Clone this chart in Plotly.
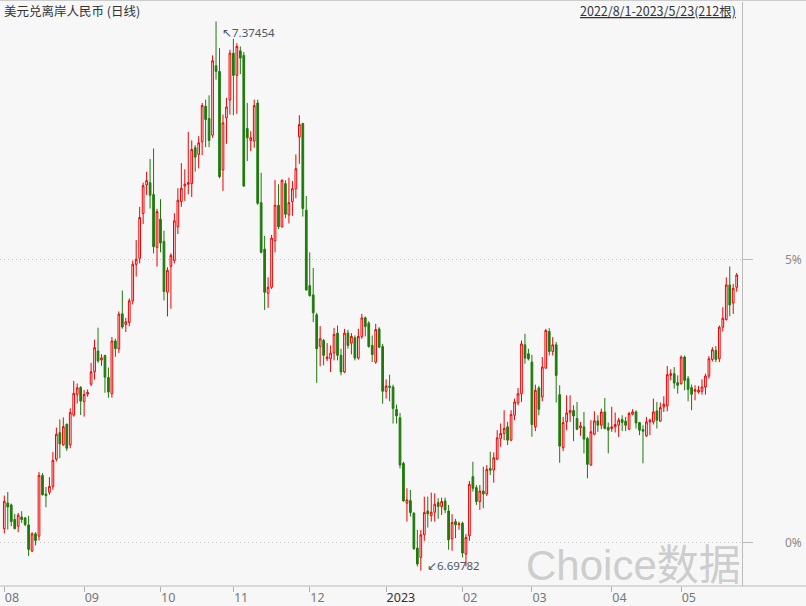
import pandas as pd
import plotly.graph_objects as go

# ---- data ----
dates = [d.strftime("%Y-%m-%d") for d in pd.bdate_range("2022-08-01", "2023-05-23")]

opens = [6.7497, 6.7812, 6.7788, 6.7608, 6.7526, 6.7640, 6.7628, 6.7542, 6.7219, 6.7432,
         6.7403, 6.8152, 6.7923, 6.7943, 6.8017, 6.8352, 6.8679, 6.8528, 6.8782, 6.8528,
         6.8896, 6.9150, 6.9236, 6.9060, 6.9154, 6.9276, 6.9428, 6.9685, 6.9575, 6.9628,
         6.9358, 6.9158, 6.9808, 6.9710, 7.0143, 7.0013, 7.0037, 7.0303, 7.0753, 7.0827,
         7.1379, 7.1730, 7.1759, 7.1612, 7.0961, 7.1309, 7.1035, 7.0409, 7.0728, 7.0798,
         7.1215, 7.1526, 7.1718, 7.1739, 7.1747, 7.2189, 7.2107, 7.2262, 7.2700, 7.2549,
         7.2344, 7.3200, 7.3130, 7.1915, 7.2557, 7.2778, 7.3355, 7.3081, 7.3384, 7.3327,
         7.2426, 7.2279, 7.2271, 7.2741, 7.1513, 7.0940, 7.0396, 7.0470, 7.1043, 7.1481,
         7.1215, 7.1747, 7.1362, 7.1526, 7.1685, 7.2324, 7.2488, 7.1419, 7.0490, 7.0376,
         7.0130, 6.9741, 6.9815, 6.9590, 6.9590, 6.9659, 6.9905, 6.9631, 6.9426, 6.9905,
         6.9782, 6.9848, 6.9598, 6.9864, 7.0093, 7.0028, 6.9753, 6.9548, 6.9957, 6.9740,
         6.9188, 6.9253, 6.9241, 6.8963, 6.8861, 6.8300, 6.7809, 6.7841, 6.7686, 6.7256,
         6.7141, 6.7420, 6.7714, 6.7657, 6.7698, 6.7817, 6.7768, 6.7837, 6.7714, 6.7371,
         6.7583, 6.7543, 6.7563, 6.7182, 6.7407, 6.8136, 6.8001, 6.7829, 6.7960, 6.7923,
         6.8238, 6.8218, 6.8353, 6.8607, 6.8668, 6.8750, 6.8586, 6.8893, 6.9045, 6.9159,
         6.9761, 6.9650, 6.9548, 6.8750, 6.9229, 6.9118, 6.9474, 6.9925, 6.9679, 6.9761,
         6.9147, 6.8492, 6.8811, 6.8922, 6.8951, 6.8852, 6.8738, 6.8750, 6.8607, 6.8279,
         6.8660, 6.8824, 6.8770, 6.8934, 6.8742, 6.8730, 6.8750, 6.8770, 6.8840, 6.8820,
         6.8721, 6.8906, 6.8934, 6.8803, 6.8717, 6.8640, 6.8811, 6.8811, 6.8946, 6.8820,
         6.8996, 6.9008, 6.9384, 6.9405, 6.9294, 6.9282, 6.9610, 6.9344, 6.9233, 6.9188,
         6.9180, 6.9188, 6.9241, 6.9376, 6.9581, 6.9691, 6.9589, 6.9978, 7.0072, 7.0498,
         7.0277, 7.0469]

highs = [6.7902, 6.7947, 6.7804, 6.7677, 6.7689, 6.7710, 6.7640, 6.7653, 6.7452, 6.7452,
         6.8193, 6.8180, 6.8009, 6.8131, 6.8438, 6.8741, 6.8843, 6.8867, 6.8790, 6.8978,
         6.9317, 6.9285, 6.9252, 6.9203, 6.9211, 6.9538, 6.9824, 6.9972, 6.9645, 6.9640,
         6.9481, 6.9857, 6.9837, 7.0172, 7.0430, 7.0094, 7.0332, 7.0798, 7.1051, 7.1460,
         7.1759, 7.1894, 7.2050, 7.2180, 7.1436, 7.1555, 7.1166, 7.0716, 7.0888, 7.1383,
         7.1690, 7.2000, 7.1923, 7.2385, 7.2279, 7.2222, 7.2332, 7.2741, 7.2782, 7.2835,
         7.3327, 7.37454, 7.3417, 7.2598, 7.2803, 7.3396, 7.3531, 7.3478, 7.3437, 7.3368,
         7.2741, 7.2393, 7.2782, 7.2782, 7.1882, 7.1104, 7.0593, 7.1116, 7.1792, 7.1739,
         7.1800, 7.1788, 7.1820, 7.1780, 7.2107, 7.2590, 7.2496, 7.1595, 7.0900, 7.0707,
         7.0155, 6.9991, 6.9835, 6.9782, 6.9753, 6.9970, 6.9999, 6.9713, 6.9958, 6.9946,
         6.9905, 6.9876, 6.9958, 7.0142, 7.0110, 7.0052, 6.9876, 7.0019, 6.9978, 6.9773,
         6.9335, 6.9393, 6.9270, 6.9024, 6.8922, 6.8320, 6.7993, 6.7972, 6.7698, 6.7481,
         6.7481, 6.7890, 6.7890, 6.7940, 6.7931, 6.7870, 6.7878, 6.7878, 6.7788, 6.7674,
         6.7616, 6.7583, 6.7583, 6.7428, 6.8083, 6.8320, 6.8034, 6.8034, 6.8259, 6.8279,
         6.8443, 6.8435, 6.8709, 6.8791, 6.8955, 6.8811, 6.8955, 6.9098, 6.9229, 6.9814,
         6.9896, 6.9712, 6.9638, 6.9270, 6.9253, 6.9610, 6.9957, 6.9966, 6.9855, 6.9794,
         6.9262, 6.8873, 6.9139, 6.9139, 6.9016, 6.9057, 6.8811, 6.8934, 6.8627, 6.8832,
         6.8942, 6.8893, 6.8975, 6.9106, 6.8803, 6.8996, 6.8926, 6.8861, 6.8893, 6.8873,
         6.8934, 6.8967, 6.8955, 6.8811, 6.8770, 6.8873, 6.8852, 6.9098, 6.9057, 6.9049,
         6.9127, 6.9499, 6.9458, 6.9487, 6.9384, 6.9630, 6.9630, 6.9376, 6.9270, 6.9262,
         6.9254, 6.9335, 6.9405, 6.9622, 6.9732, 6.9745, 6.9998, 7.0224, 7.0592, 7.0727,
         7.0510, 7.0645]

lows = [6.7436, 6.7485, 6.7526, 6.7485, 6.7452, 6.7567, 6.7526, 6.7158, 6.7207, 6.7289,
        6.7350, 6.7902, 6.7759, 6.7914, 6.7976, 6.8323, 6.8364, 6.8516, 6.8454, 6.8487,
        6.8876, 6.9039, 6.8896, 6.8876, 6.9121, 6.9252, 6.9334, 6.9538, 6.9501, 6.9170,
        6.9109, 6.9109, 6.9612, 6.9661, 6.9959, 6.9919, 6.9988, 7.0258, 7.0602, 7.0765,
        7.1248, 7.1608, 7.1440, 7.0888, 7.0724, 7.0900, 7.0307, 7.0111, 7.0205, 7.0765,
        7.1125, 7.1460, 7.1534, 7.1616, 7.1583, 7.1894, 7.1935, 7.2099, 7.2197, 7.2197,
        7.2312, 7.3028, 7.1812, 7.1657, 7.2238, 7.2598, 7.2590, 7.2606, 7.3097, 7.1706,
        7.2025, 7.2148, 7.2189, 7.1485, 7.0887, 7.0191, 7.0216, 7.0449, 7.0900, 7.1186,
        7.1206, 7.1321, 7.1256, 7.1350, 7.1567, 7.1992, 7.1342, 7.0429, 7.0355, 7.0040,
        6.9291, 6.9496, 6.9508, 6.9561, 6.9426, 6.9569, 6.9569, 6.9385, 6.9414, 6.9713,
        6.9643, 6.9569, 6.9577, 6.9835, 6.9864, 6.9725, 6.9549, 6.9528, 6.9720, 6.9036,
        6.9098, 6.9065, 6.8791, 6.8791, 6.8238, 6.7829, 6.7583, 6.7645, 6.7236, 6.7031,
        6.69782, 6.7346, 6.7510, 6.7583, 6.7583, 6.7616, 6.7665, 6.7686, 6.7236, 6.7223,
        6.7379, 6.7481, 6.7141, 6.7031, 6.7346, 6.7952, 6.7788, 6.7727, 6.7747, 6.7899,
        6.8157, 6.8062, 6.8341, 6.8504, 6.8586, 6.8525, 6.8574, 6.8832, 6.9016, 6.9057,
        6.9528, 6.9569, 6.8627, 6.8697, 6.8893, 6.9065, 6.9466, 6.9630, 6.9630, 6.9050,
        6.8308, 6.8451, 6.8709, 6.8811, 6.8574, 6.8709, 6.8640, 6.8423, 6.8116, 6.8271,
        6.8648, 6.8689, 6.8721, 6.8721, 6.8423, 6.8689, 6.8681, 6.8627, 6.8697, 6.8697,
        6.8713, 6.8893, 6.8730, 6.8648, 6.8300, 6.8627, 6.8648, 6.8779, 6.8730, 6.8811,
        6.8934, 6.8942, 6.9323, 6.9221, 6.9159, 6.9270, 6.9200, 6.9065, 6.8955, 6.9077,
        6.9159, 6.9147, 6.9147, 6.9344, 6.9556, 6.9548, 6.9548, 6.9925, 7.0060, 7.0113,
        7.0142, 7.0416]

closes = [6.7833, 6.7763, 6.7583, 6.7497, 6.7661, 6.7608, 6.7546, 6.7240, 6.7432, 6.7350,
          6.8152, 6.7914, 6.7902, 6.8017, 6.8336, 6.8659, 6.8540, 6.8753, 6.8487, 6.8925,
          6.9162, 6.9231, 6.9068, 6.9150, 6.9174, 6.9428, 6.9726, 6.9563, 6.9600, 6.9362,
          6.9178, 6.9808, 6.9714, 7.0139, 6.9980, 7.0045, 7.0303, 7.0753, 7.0814, 7.1330,
          7.1722, 7.1784, 7.1604, 7.0970, 7.1403, 7.1015, 7.0418, 7.0679, 7.0863, 7.1289,
          7.1542, 7.1690, 7.1739, 7.1759, 7.2168, 7.2074, 7.2250, 7.2709, 7.2537, 7.2279,
          7.3261, 7.3130, 7.1833, 7.2496, 7.2692, 7.3355, 7.3081, 7.3437, 7.3294, 7.1718,
          7.2312, 7.2312, 7.2709, 7.1505, 7.0900, 7.0408, 7.0470, 7.1076, 7.1481, 7.1215,
          7.1788, 7.1370, 7.1513, 7.1685, 7.1931, 7.2475, 7.1440, 7.0437, 7.0367, 7.0155,
          6.9713, 6.9835, 6.9631, 6.9610, 6.9659, 6.9889, 6.9631, 6.9426, 6.9905, 6.9753,
          6.9864, 6.9598, 6.9864, 7.0093, 6.9987, 6.9741, 6.9640, 6.9949, 6.9732, 6.9188,
          6.9253, 6.9237, 6.8975, 6.8885, 6.8279, 6.7837, 6.7850, 6.7694, 6.7248, 6.7060,
          6.7420, 6.7694, 6.7678, 6.7698, 6.7796, 6.7768, 6.7829, 6.7727, 6.7358, 6.7571,
          6.7543, 6.7555, 6.7195, 6.7387, 6.8042, 6.7993, 6.7829, 6.7960, 6.7923, 6.8226,
          6.8214, 6.8369, 6.8615, 6.8668, 6.8730, 6.8586, 6.8901, 6.9057, 6.9159, 6.9773,
          6.9597, 6.9589, 6.8779, 6.9200, 6.8967, 6.9487, 6.9937, 6.9679, 6.9761, 6.9384,
          6.8513, 6.8803, 6.8922, 6.8951, 6.8885, 6.8721, 6.8762, 6.8599, 6.8288, 6.8689,
          6.8824, 6.8770, 6.8934, 6.8730, 6.8709, 6.8750, 6.8779, 6.8832, 6.8803, 6.8770,
          6.8914, 6.8934, 6.8799, 6.8709, 6.8697, 6.8811, 6.8832, 6.8934, 6.8832, 6.8987,
          6.9028, 6.9393, 6.9405, 6.9290, 6.9262, 6.9610, 6.9323, 6.9213, 6.9151, 6.9208,
          6.9200, 6.9241, 6.9376, 6.9589, 6.9700, 6.9581, 6.9978, 7.0088, 7.0498, 7.0252,
          7.0457, 7.0621]

month_starts = ["2022-08-01", "2022-09-01", "2022-10-03", "2022-11-01", "2022-12-01",
                "2023-01-02", "2023-02-01", "2023-03-01", "2023-04-03", "2023-05-01"]
month_labels = ["08", "09", "10", "11", "12", "2023", "02", "03", "04", "05"]

pct_prices = [6.7327, 7.0811]
pct_labels = ["0%", "5%"]

high_label = "↖7.37454"
low_label = "↙6.69782"
title_text = "美元兑离岸人民币 (日线)"
range_text = "2022/8/1-2023/5/23(212根)"
watermark = "Choice数据"

# ---- styling ----
BG = "#f7f7f7"
RED = "#ee0000"
GREEN = "#1f7a0c"
W, H = 806, 606
ML, MR, MT, MB = 0, 64, 2, 18
PW = W - ML - MR
PH = H - MT - MB

def px_x(px):
    return (px - ML) / PW

def px_y(py):
    return (H - MB - py) / PH

hi_idx = highs.index(max(highs))
lo_idx = lows.index(min(lows))

fig = go.Figure(go.Candlestick(
    x=dates, open=opens, high=highs, low=lows, close=closes,
    increasing=dict(line=dict(color=RED, width=1), fillcolor=BG),
    decreasing=dict(line=dict(color=GREEN, width=1), fillcolor=GREEN),
    whiskerwidth=0, showlegend=False, hoverinfo="x+y",
))

tick_text = []
for lab in month_labels:
    if len(lab) == 4:
        tick_text.append('<span style="color:#333333">%s</span>' % lab)
    else:
        tick_text.append(lab)

fig.update_layout(
    width=W, height=H,
    margin=dict(l=ML, r=MR, t=MT, b=MB),
    paper_bgcolor=BG, plot_bgcolor=BG,
    boxgap=0.3,
    font=dict(family="Noto Sans, Noto Sans CJK SC, sans-serif", size=12, color="#666"),
    showlegend=False,
    xaxis=dict(
        type="category", range=[-1.24, 212.53],
        rangeslider=dict(visible=False),
        tickmode="array", tickvals=month_starts, ticktext=tick_text,
        ticks="outside", ticklen=5, tickcolor="#b0b0b0", tickwidth=1,
        ticklabelposition="outside right",
        tickfont=dict(size=12.5, color="#777777"),
        showgrid=False, showline=False, zeroline=False, fixedrange=True,
    ),
    yaxis=dict(
        side="right", range=[6.6789, 7.3985],
        tickmode="array", tickvals=pct_prices, ticktext=["", ""],
        ticks="outside", ticklen=10, tickcolor="#bbbbbb", tickwidth=1,
        showgrid=True, gridcolor="#c4c4c4", gridwidth=1, griddash="1px,3px",
        showline=True, linecolor="#bbbbbb", linewidth=1,
        zeroline=False, fixedrange=True,
    ),
)

shapes = [
    dict(type="line", xref="paper", yref="paper", x0=0, x1=W / PW, y0=px_y(0.5), y1=px_y(0.5),
         line=dict(color="#cccccc", width=1)),
    dict(type="line", xref="paper", yref="paper", x0=0, x1=W / PW, y0=0, y1=0,
         line=dict(color="#bbbbbb", width=1)),
]
fig.update_layout(shapes=shapes)

ann = []
ann.append(dict(xref="paper", yref="paper", x=px_x(2), y=px_y(11), xanchor="left", yanchor="middle",
                text=title_text, showarrow=False,
                font=dict(family="Noto Sans CJK SC, sans-serif", size=12.5, color="#333333")))
ann.append(dict(xref="paper", yref="paper", x=px_x(738), y=px_y(11), xanchor="right", yanchor="middle",
                text="<u>%s</u>" % range_text, showarrow=False,
                font=dict(family="Noto Sans CJK SC, sans-serif", size=12.5, color="#333333")))
ann.append(dict(xref="x", yref="y", x=dates[hi_idx], y=highs[hi_idx], xanchor="left", yanchor="middle",
                xshift=4, yshift=-11, text=high_label, showarrow=False,
                font=dict(family="Noto Sans, sans-serif", size=11.5, color="#4d5866")))
ann.append(dict(xref="x", yref="y", x=dates[lo_idx], y=lows[lo_idx], xanchor="left", yanchor="middle",
                xshift=4, yshift=5, text=low_label, showarrow=False,
                font=dict(family="Noto Sans, sans-serif", size=11.5, color="#4d5866")))
for p, lab in zip(pct_prices, pct_labels):
    ann.append(dict(xref="paper", yref="y", x=px_x(804), y=p, xanchor="right", yanchor="middle",
                    text=lab, showarrow=False,
                    font=dict(family="Noto Sans, sans-serif", size=12, color="#8a8a8a")))
ann.append(dict(xref="paper", yref="paper", x=px_x(633), y=px_y(567), xanchor="center", yanchor="middle",
                text=watermark, showarrow=False,
                font=dict(family="Liberation Sans, Noto Sans CJK SC, sans-serif", size=42, color="#cdcdcd")))
fig.update_layout(annotations=ann)

fig.write_html("out.html", config={"displayModeBar": False},
               post_script="document.body.style.margin='0';")
